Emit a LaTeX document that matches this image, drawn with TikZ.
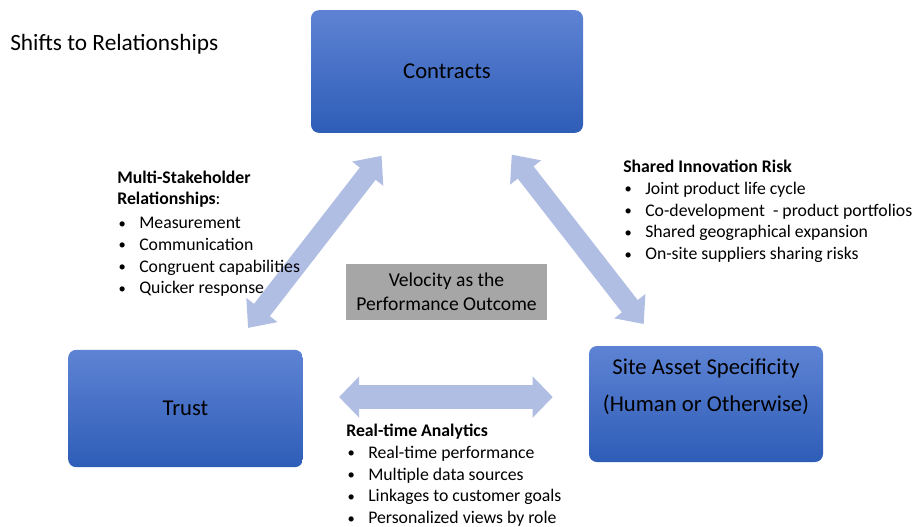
\documentclass[tikz,border=0pt]{standalone}
\usepackage{fontspec}
\setmainfont{Carlito}
\usepackage{tikz}
\usetikzlibrary{positioning, arrows.meta}

\definecolor{boxtop}{RGB}{94,131,212}
\definecolor{boxbot}{RGB}{46,93,183}
\definecolor{flow}{RGB}{176,190,227}
\definecolor{velgray}{RGB}{166,166,166}

\newcommand{\bul}{\makebox[16.5pt][l]{\hspace{1pt}\raisebox{0.4pt}{\scalebox{0.82}{\textbullet}}}}

\begin{document}
\begin{tikzpicture}[x=0.75pt, y=-0.75pt,
  bluebox/.style={rounded corners=6pt, top color=boxtop, bottom color=boxbot, inner sep=0pt, font=\fontsize{17}{20.4}\selectfont},
  flowarrow/.style={draw=flow, line width=15pt, {Triangle[width=28.5pt,length=17pt]}-{Triangle[width=28.5pt,length=17pt]}},
  notes/.style={align=left, anchor=north west, inner sep=0pt, font=\fontsize{13.3}{16.3}\selectfont}]
\useasboundingbox (0,0) rectangle (921,526);
\node[anchor=base west, inner sep=0pt, font=\fontsize{17.5}{21}\selectfont] (title) at (10,50) {Shifts to Relationships};
\node[bluebox, minimum width=204pt, minimum height=92pt] (contracts) at (447,71.5) {Contracts};
\node[bluebox, minimum width=176pt, minimum height=88pt] (trust) at (185.5,408.5) {Trust};
\node[bluebox, minimum width=175.5pt, minimum height=87pt] (site) at (706,404) {};
\node[align=center, inner sep=0pt, font=\fontsize{17}{20.4}\selectfont] (sitetext) at ([yshift=13pt]site.center) {Site Asset Specificity\\[7pt](Human or Otherwise)};
\node[fill=velgray, minimum width=150.75pt, minimum height=42pt, inner sep=0pt, align=center, font=\fontsize{14.7}{18}\selectfont] (velocity) at (446.5,292) {Velocity as the\\Performance Outcome};
\draw[flowarrow, shorten <=80pt, shorten >=76.5pt] (contracts.center) -- (trust.center);
\draw[flowarrow, shorten <=79pt, shorten >=76pt] (contracts.center) -- (site.center);
\coordinate (hl) at ([yshift=8.6pt]trust.east);
\draw[flowarrow, line width=18pt, {Triangle[width=30pt,length=15pt]}-{Triangle[width=30pt,length=15pt]}, shorten <=27pt, shorten >=27pt] (hl) -- (hl -| site.west);
\node[notes] (stake) at (117,170.5) {\textbf{Multi-Stakeholder}\\\textbf{Relationships}:\\[1.5pt]
  \bul Measurement\\\bul Communication\\\bul Congruent capabilities\\\bul Quicker response};
\node[notes] (innov) at (623,160) {\textbf{Shared Innovation Risk}\\
  \bul Joint product life cycle\\\bul Co-development\ \ - product portfolios\\\bul Shared geographical expansion\\\bul On-site suppliers sharing risks};
\node[notes] (analytics) at (346,424) {\textbf{Real-time Analytics}\\
  \bul Real-time performance\\\bul Multiple data sources\\\bul Linkages to customer goals\\\bul Personalized views by role};
\end{tikzpicture}
\end{document}
